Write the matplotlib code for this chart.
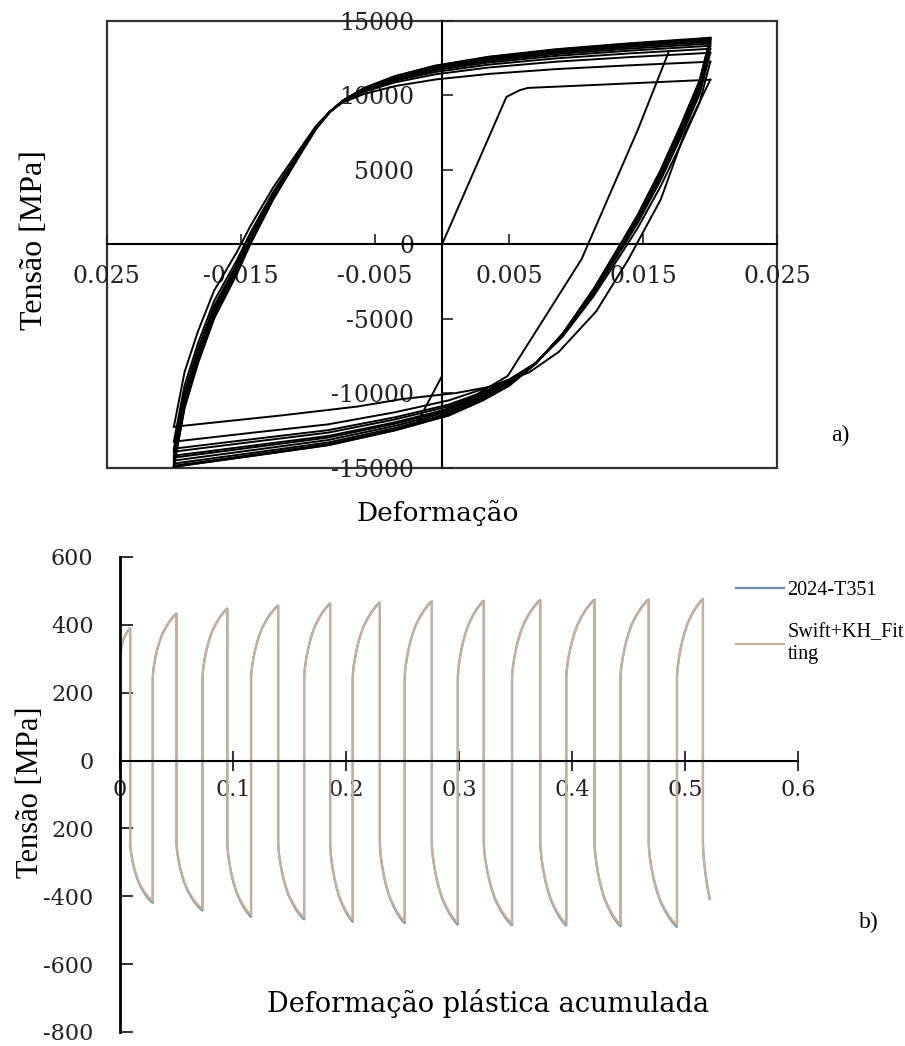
import numpy as np
import matplotlib
matplotlib.use("Agg")
import matplotlib.pyplot as plt
from matplotlib.patches import Rectangle

plt.rcParams['font.family'] = 'DejaVu Serif'

# ---------------- a) stress-strain hysteresis loops ----------------
# first monotonic loading
load_strain = [0.0, 0.0048, 0.0058, 0.0064, 0.0114, 0.0200]
load_stress = [0, 9900, 10350, 10500, 10700, 11050]

# first unloading / compression
unload_strain = [0.0200, 0.0181, 0.0163, 0.0139, 0.0115, 0.0087, 0.0065,
                 0.0040, 0.0010, -0.0030, -0.0063, -0.0120, -0.0200]
unload_stress = [11050, 7500, 3000, -1000, -4500, -7230, -8600,
                 -9500, -10000, -10400, -10900, -11500, -12260]

# stabilised tension branch (-0.02 -> +0.02)
tens_strain = [-0.0200, -0.0192, -0.0182, -0.0170, -0.0153, -0.0143, -0.0126,
               -0.0106, -0.0094, -0.0084, -0.0074, -0.0058, -0.0035, -0.0005,
               0.0035, 0.0085, 0.0140, 0.0200]
tens_stress = [-14950, -11000, -8000, -5000, -2000, 0, 3000,
               6000, 7750, 8850, 9650, 10500, 11300, 12000,
               12600, 13100, 13500, 13870]
tens_w_start = [1, 0.9, 0.8, 0.7, 0.55, 0.45, 0.3, 0.15, 0.08, 0.04, 0.02,
                0, 0, 0, 0, 0, 0, 0]
tens_w_end = [0, 0, 0, 0, 0, 0, 0, 0, 0.01, 0.04, 0.11, 0.25, 0.42, 0.58,
              0.72, 0.83, 0.92, 1]

# stabilised compression branch (+0.02 -> -0.02)
comp_strain = [0.0200, 0.0192, 0.0178, 0.0163, 0.0146, 0.0133, 0.0113, 0.0090,
               0.0070, 0.0050, 0.0030, 0.0005, -0.0035, -0.0085, -0.0140, -0.0200]
comp_stress = [13870, 11000, 8000, 5000, 2000, 0, -3000, -6000,
               -8000, -9500, -10500, -11500, -12500, -13500, -14200, -14950]
comp_w_start = [1, 0.92, 0.8, 0.68, 0.55, 0.45, 0.3, 0.12, 0.03, 0,
                0, 0, 0, 0, 0, 0]
comp_w_end = [0, 0, 0, 0, 0, 0, 0, 0, 0.05, 0.25, 0.45, 0.6, 0.72, 0.83,
              0.92, 1]

# stress at the strain tips of each cycle
peak_tension = [11050, 12260, 12860, 13130, 13330, 13480, 13600, 13700,
                13770, 13830, 13870]
peak_compression = [-12260, -13260, -13730, -13930, -14200, -14330, -14530,
                    -14730, -14870, -14940, -14950]

# partial unloading path in the middle of the loops
extra_strain = [0.0169, 0.0146, 0.0104, 0.0049, 0.0020, -0.0018, 0.0000]
extra_stress = [12930, 7700, -1000, -8840, -10400, -11900, -8840]

# ---------------- b) stress vs accumulated plastic strain ----------------
peak_x = [0.009, 0.050, 0.095, 0.140, 0.186, 0.230, 0.276, 0.322, 0.372,
          0.420, 0.468, 0.516]
fit_peak = [388, 431, 446, 455, 461, 464, 467, 469, 471, 472, 473, 474]
exp_peak = [390, 433, 448, 457, 463, 466, 469, 471, 473, 474, 475, 476]
trough_x = [0.029, 0.073, 0.116, 0.163, 0.206, 0.252, 0.299, 0.347, 0.395,
            0.443, 0.493]
fit_trough = [-414, -437, -455, -463, -470, -474, -478, -480, -481, -483, -485]
exp_trough = [-419, -442, -460, -468, -475, -479, -483, -485, -486, -488, -490]
first_yield = 300
reverse_yield = 240
# shape of a plastic branch (fraction of strain span, fraction of stress rise)
shape_t = [0, 0.01, 0.04, 0.09, 0.14, 0.2, 0.28, 0.4, 0.56, 0.7, 0.83, 0.93, 1.0]
shape_f = [0, 0.08, 0.18, 0.29, 0.38, 0.47, 0.57, 0.69, 0.8, 0.88, 0.94, 0.98, 1.0]
# the last (unfinished) compression branch stops here
end_x, end_s = 0.522, -408

y1_ticks = [-15000, -10000, -5000, 0, 5000, 10000, 15000]
x1_ticks = [-0.025, -0.015, -0.005, 0.005, 0.015, 0.025]
x1_labels = ["0.025", "-0.015", "-0.005", "0.005", "0.015", "0.025"]
y2_ticks = [600, 400, 200, 0, -200, -400, -600, -800]
y2_labels = ["600", "400", "200", "0", "200", "-400", "-600", "-800"]
x2_ticks = [0, 0.1, 0.2, 0.3, 0.4, 0.5, 0.6]
x2_labels = ["0", "0.1", "0.2", "0.3", "0.4", "0.5", "0.6"]


def branch(strain, stress, w_start, w_end, s_start, s_end):
    stress = np.array(stress, float)
    d0 = s_start - stress[0]
    d1 = s_end - stress[-1]
    return np.array(strain), stress + d0 * np.array(w_start) + d1 * np.array(w_end)


def plastic_curve(x0, s0, x1, s1, n=None):
    t = np.array(shape_t[:n] if n else shape_t)
    f = np.array(shape_f[:n] if n else shape_f)
    return list(x0 + t * (x1 - x0)), list(s0 + f * (s1 - s0))


def cycle_path(peaks, troughs):
    xs, ys = [0.0, 0.0], [0.0, first_yield]
    cx, cy = plastic_curve(0.0, first_yield, peak_x[0], peaks[0])
    xs += cx
    ys += cy
    for i in range(len(troughs)):
        xs += [peak_x[i]]
        ys += [-reverse_yield]
        cx, cy = plastic_curve(peak_x[i], -reverse_yield, trough_x[i], troughs[i])
        xs += cx
        ys += cy
        xs += [trough_x[i]]
        ys += [reverse_yield]
        cx, cy = plastic_curve(trough_x[i], reverse_yield, peak_x[i + 1], peaks[i + 1])
        xs += cx
        ys += cy
    # unfinished last branch: same shape, cut where the record ends
    n = 7
    x1 = peak_x[-1] + (end_x - peak_x[-1]) / shape_t[n - 1]
    s1 = -reverse_yield + (end_s + reverse_yield) / shape_f[n - 1]
    xs += [peak_x[-1]]
    ys += [-reverse_yield]
    cx, cy = plastic_curve(peak_x[-1], -reverse_yield, x1, s1, n=n)
    xs += cx
    ys += cy
    return xs, ys


fig = plt.figure(figsize=(9.05, 10.46), dpi=100)

# ---- top panel ----
ax1 = fig.add_axes([0.118, 0.553, 0.741, 0.427])
lw = 1.4
ax1.plot(load_strain, load_stress, color='k', lw=lw)
ax1.plot(unload_strain, unload_stress, color='k', lw=lw)
for k in range(1, len(peak_tension)):
    x, y = branch(tens_strain, tens_stress, tens_w_start, tens_w_end,
                  peak_compression[k - 1], peak_tension[k])
    ax1.plot(x, y, color='k', lw=lw)
    x, y = branch(comp_strain, comp_stress, comp_w_start, comp_w_end,
                  peak_tension[k], peak_compression[k])
    ax1.plot(x, y, color='k', lw=lw)
ax1.plot(extra_strain, extra_stress, color='k', lw=lw)

ax1.set_xlim(-0.025, 0.025)
ax1.set_ylim(-15000, 15000)
ax1.spines['left'].set_position(('data', 0))
ax1.spines['bottom'].set_position(('data', 0))
ax1.spines['right'].set_visible(False)
ax1.spines['top'].set_visible(False)
for s in ['left', 'bottom']:
    ax1.spines[s].set_linewidth(1.5)
ax1.add_patch(Rectangle((0, 0), 1, 1, transform=ax1.transAxes, fill=False,
                        lw=1.6, ec='#333333', clip_on=False))
ax1.set_xticks(x1_ticks)
ax1.set_xticklabels(x1_labels)
ax1.set_yticks(y1_ticks)
ax1.set_yticklabels([str(v) for v in y1_ticks])
ax1.tick_params(axis='x', direction='in', length=7, width=1.2, pad=15,
                labelsize=17, colors='#222222')
ax1.tick_params(axis='y', direction='in', length=8, width=1.2, pad=20,
                labelsize=17, colors='#222222')

# ---- bottom panel ----
ax2 = fig.add_axes([0.1326, 0.0134, 0.749, 0.4541])
xe, ye = cycle_path(exp_peak, exp_trough)
xf, yf = cycle_path(fit_peak, fit_trough)
ax2.plot(xe, ye, color='#6f93ad', lw=1.6, label='2024-T351')
ax2.plot(xf, yf, color='#c8b09a', lw=1.6, label='Swift+KH_Fit\nting')
ax2.set_xlim(0, 0.6)
ax2.set_ylim(-800, 600)
ax2.spines['bottom'].set_position(('data', 0))
ax2.spines['right'].set_visible(False)
ax2.spines['top'].set_visible(False)
ax2.spines['left'].set_linewidth(2)
ax2.spines['bottom'].set_linewidth(1.5)
ax2.set_xticks(x2_ticks)
ax2.set_xticklabels(x2_labels)
ax2.set_yticks(y2_ticks)
ax2.set_yticklabels(y2_labels)
ax2.tick_params(axis='y', direction='in', length=9, width=1.3, pad=19,
                labelsize=16, colors='#222222')
ax2.tick_params(axis='x', direction='inout', length=14, width=1.3, pad=6,
                labelsize=16, colors='#222222')
ax2.legend(loc='upper left', bbox_to_anchor=(718 / 905, 1 - 563 / 1046),
           bbox_transform=fig.transFigure, frameon=False, handlelength=2.4,
           handletextpad=0.15, labelspacing=1.15,
           prop={'family': 'Liberation Serif', 'size': 14.5})

# ---- labels ----
W, H = 905, 1046
fig.text(35 / W, 1 - 240 / H, "Tensão [MPa]", rotation=90, ha='center',
         va='center', family='Liberation Serif', fontsize=23)
fig.text(438 / W, 1 - 513 / H, "Deformação", ha='center', va='center',
         fontsize=19)
fig.text(840 / W, 1 - 435 / H, "a)", ha='center', va='center',
         family='Liberation Serif', fontsize=17)
fig.text(30 / W, 1 - 792 / H, "Tensão [MPa]", rotation=90, ha='center',
         va='center', family='Liberation Serif', fontsize=22)
fig.text(488 / W, 1 - 1003 / H, "Deformação plástica acumulada", ha='center',
         va='center', fontsize=19.5)
fig.text(869 / W, 1 - 922 / H, "b)", ha='center', va='center',
         family='Liberation Serif', fontsize=17)

fig.savefig("out.png", dpi=100)
